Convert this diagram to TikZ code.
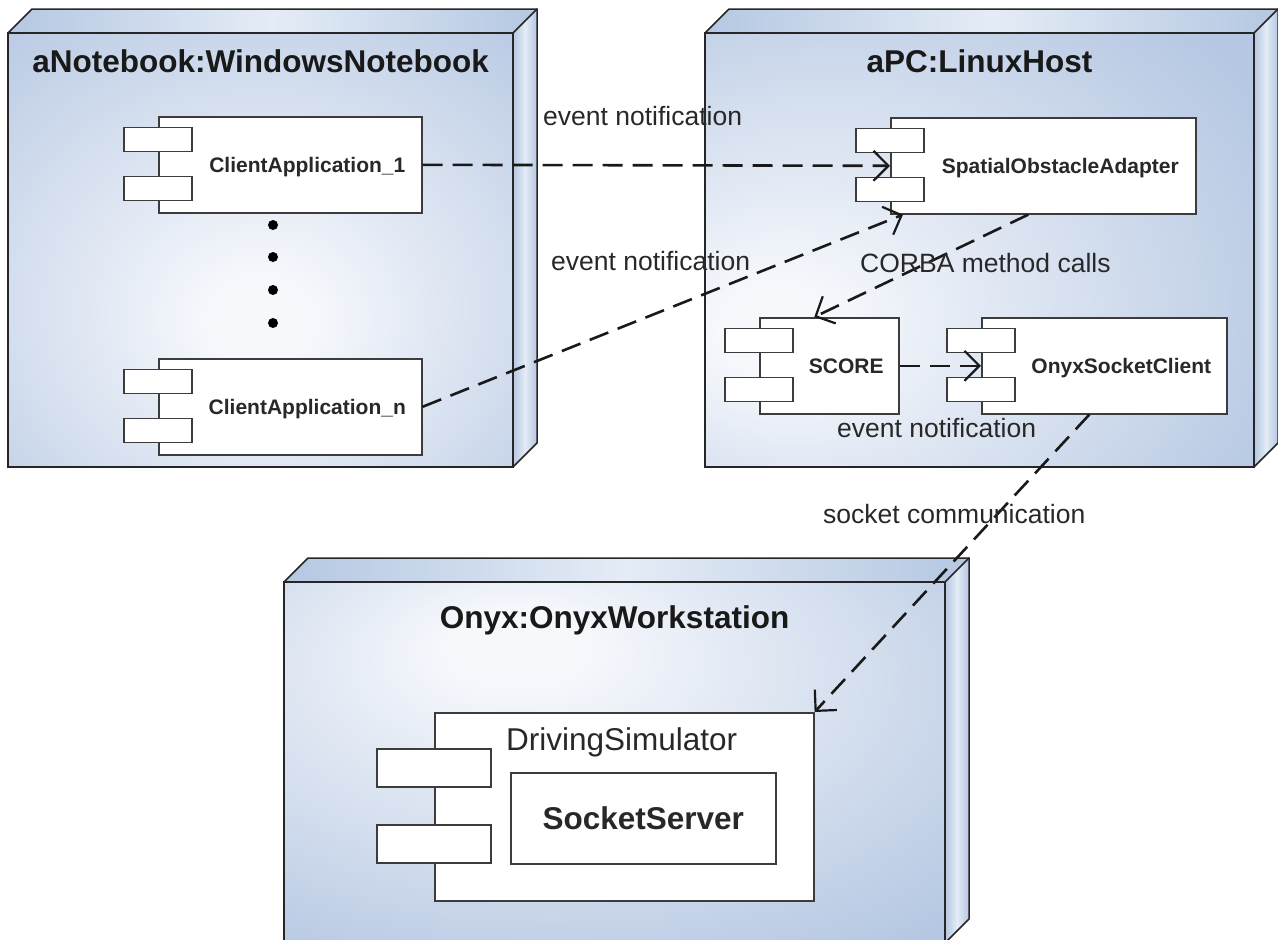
\documentclass[tikz,border=0pt]{standalone}
\usepackage{fontspec}
\setmainfont{Liberation Sans}
\usetikzlibrary{arrows.meta,calc}
\definecolor{nb}{RGB}{181,199,226}
\definecolor{hl}{RGB}{246,248,252}
\definecolor{sidehl}{RGB}{228,236,246}
\definecolor{txt}{RGB}{40,40,40}
\definecolor{cl}{RGB}{60,60,60}
\pgfdeclareradialshading{shA}{\pgfpoint{0bp}{-9bp}}{color(0bp)=(hl); color(5bp)=(hl); color(42bp)=(nb); color(80bp)=(nb)}
\pgfdeclareradialshading{shB}{\pgfpoint{-20bp}{-10bp}}{color(0bp)=(hl); color(5bp)=(hl); color(42bp)=(nb); color(80bp)=(nb)}
\pgfdeclareradialshading{shC}{\pgfpoint{-8bp}{17bp}}{color(0bp)=(hl); color(5bp)=(hl); color(42bp)=(nb); color(80bp)=(nb)}
\newcommand\threeDbox[5]{%
  \shade[shading=#5] (#1,#2) rectangle (#3,#4);
  \shade[left color=nb, right color=nb, middle color=sidehl] (#1,#2) -- ({#1+24},{#2-24}) -- ({#3+24},{#2-24}) -- (#3,#2) -- cycle;
  \shade[left color=nb, right color=nb, middle color=sidehl] (#3,#2) -- ({#3+24},{#2-24}) -- ({#3+24},{#4-24}) -- (#3,#4) -- cycle;
  \draw[boxline] (#1,#2) rectangle (#3,#4);
  \draw[boxline] (#1,#2) -- ({#1+24},{#2-24}) -- ({#3+24},{#2-24}) -- ({#3+24},{#4-24}) -- (#3,#4);
  \draw[boxline] (#3,#2) -- ({#3+24},{#2-24});
}
\begin{document}
\begin{tikzpicture}[x=1pt,y=-1pt,
  boxline/.style={draw=black!85, line width=1.5pt},
  body/.style={draw=cl, line width=1.6pt, fill=white, inner sep=0pt, anchor=north west},
  port/.style={draw=cl, line width=1.6pt, fill=white, inner sep=0pt, minimum width=68pt, minimum height=24pt},
  clabel/.style={font=\bfseries\fontsize{21}{24}\selectfont, text=txt, anchor=base, inner sep=0pt},
  elabel/.style={font=\fontsize{26.5}{30}\selectfont, text=txt, anchor=base west, inner sep=0pt},
  title/.style={font=\bfseries\fontsize{31.5}{36}\selectfont, text=black!90, anchor=base, inner sep=0pt},
  dot/.style={circle, fill=black, inner sep=0pt, minimum size=10pt},
  conn/.style={draw=black!90, line width=2.6pt, dash pattern=on 20pt off 10pt, -{Straight Barb[length=15pt,width=30pt,line width=2.2pt]}}]
\useasboundingbox (0,0) rectangle (1278,940);
\clip (0,0) rectangle (1278,940);

% deployment nodes
\threeDbox{8}{33}{513}{467}{shA}
\threeDbox{705}{33}{1254}{467}{shB}
\threeDbox{284}{582}{945}{943}{shC}

\node[title] (t1) at (260.5,72) {aNotebook:WindowsNotebook};
\node[title] (t2) at (979.5,72) {aPC:LinuxHost};
\node[title] (t3) at (614.5,628) {Onyx:OnyxWorkstation};

% components in aNotebook
\node[body, minimum width=263pt, minimum height=96pt] (ca1) at (158,116) {};
\node[port] (ca1p1) at ($(ca1.north west)+(0,23.5)$) {};
\node[port] (ca1p2) at ($(ca1.north west)+(0,72.5)$) {};
\node[clabel] (ca1t) at ($(ca1.center)+(17,7.5)$) {ClientApplication\_1};

\node[body, minimum width=263pt, minimum height=96pt] (can) at (158,358) {};
\node[port] (canp1) at ($(can.north west)+(0,23.5)$) {};
\node[port] (canp2) at ($(can.north west)+(0,72.5)$) {};
\node[clabel] (cant) at ($(can.center)+(17,7.5)$) {ClientApplication\_n};

\node[dot] (d1) at (273,225) {};
\node[dot] (d2) at (273,257) {};
\node[dot] (d3) at (273,290) {};
\node[dot] (d4) at (273,323) {};

% components in aPC
\node[body, minimum width=305pt, minimum height=96pt] (soa) at (890,117) {};
\node[port] (soap1) at ($(soa.north west)+(0,23.5)$) {};
\node[port] (soap2) at ($(soa.north west)+(0,72.5)$) {};
\node[clabel] (soat) at ($(soa.center)+(17,7.5)$) {SpatialObstacleAdapter};

\node[body, minimum width=139pt, minimum height=96pt] (score) at (759,317) {};
\node[port] (scorep1) at ($(score.north west)+(0,23.5)$) {};
\node[port] (scorep2) at ($(score.north west)+(0,72.5)$) {};
\node[clabel] (scoret) at ($(score.center)+(17,7.5)$) {SCORE};

\node[body, minimum width=245pt, minimum height=96pt] (osc) at (981,317) {};
\node[port] (oscp1) at ($(osc.north west)+(0,23.5)$) {};
\node[port] (oscp2) at ($(osc.north west)+(0,72.5)$) {};
\node[clabel] (osct) at ($(osc.center)+(17,7.5)$) {OnyxSocketClient};

% component in Onyx
\node[body, minimum width=379pt, minimum height=188pt] (ds) at (434,712) {};
\node[port, minimum width=114pt, minimum height=38pt] (dsp1) at ($(ds.north west)+(0,56)$) {};
\node[port, minimum width=114pt, minimum height=38pt] (dsp2) at ($(ds.north west)+(0,132)$) {};
\node[font=\fontsize{31.5}{36}\selectfont, text=txt, anchor=base west, inner sep=0pt] (dst) at (506,750) {DrivingSimulator};
\node[body, minimum width=265pt, minimum height=91pt, font=\bfseries\fontsize{31.5}{36}\selectfont, text=txt] (ss) at (510,772) {SocketServer};

% connectors
\draw[conn] (ca1.east) -- (soa.west);
\draw[conn] (can.east) -- ($(soa.south west)+(13,0)$);
\draw[conn] ($(soa.south)+(-15,0)$) -- ($(score.north)+(-15,0)$);
\draw[conn] (score.east) -- (osc.west);
\draw[conn] ($(osc.south)+(-15,0)$) -- (ds.north east);

% connector labels
\node[elabel] (l1) at (543,125) {event notification};
\node[elabel] (l2) at (551,270) {event notification};
\node[elabel] (l3) at (860,272) {CORBA method calls};
\node[elabel] (l4) at (837,437) {event notification};
\node[elabel] (l5) at (823,523) {socket communication};
\end{tikzpicture}
\end{document}
